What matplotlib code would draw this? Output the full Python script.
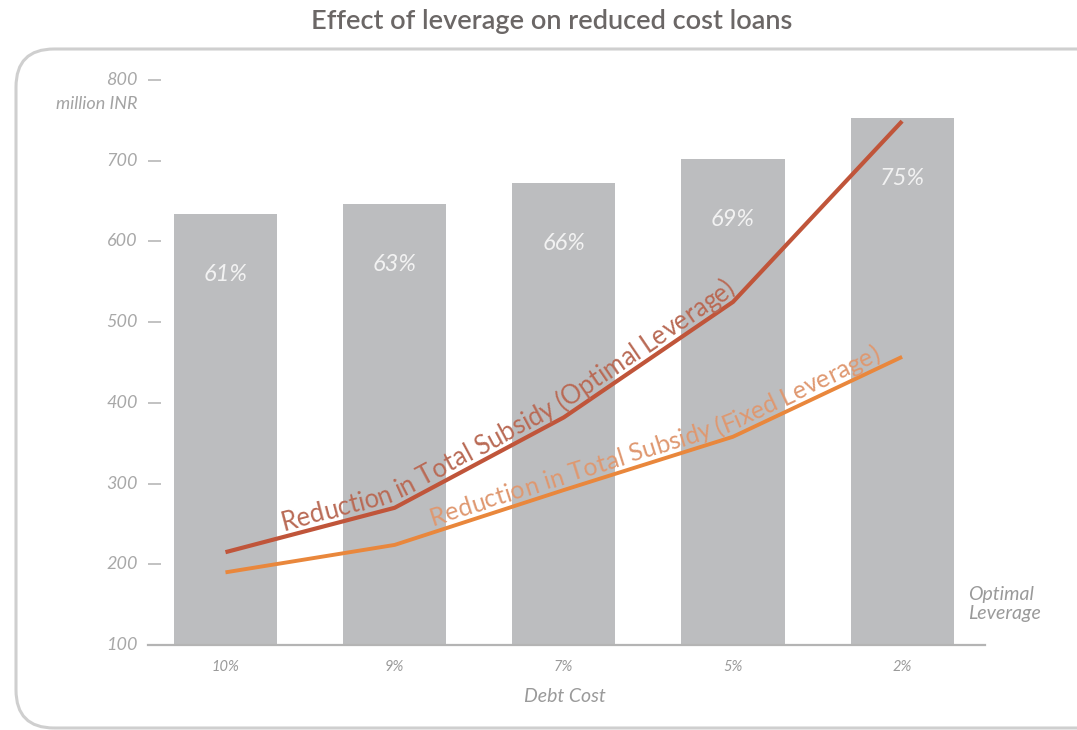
import numpy as np
import matplotlib
matplotlib.use("Agg")
import matplotlib.pyplot as plt
from matplotlib.patches import FancyBboxPatch
from matplotlib.transforms import IdentityTransform, blended_transform_factory, offset_copy
from matplotlib.font_manager import FontProperties

plt.rcParams['font.family'] = ['Lato', 'DejaVu Sans']

# ---------------- data ----------------
categories = ["10%", "9%", "7%", "5%", "2%"]
bar_values = [634, 646, 672, 702, 753]
bar_labels = ["61%", "63%", "66%", "69%", "75%"]
optimal_values = [215, 270, 382, 525, 749]
fixed_values = [190, 224, 292, 358, 457]
y_ticks = [100, 200, 300, 400, 500, 600, 700, 800]

W, H = 1077, 730
fig = plt.figure(figsize=(W / 100, H / 100), dpi=100)
fig.patch.set_facecolor("white")

# rounded frame
frame = FancyBboxPatch((16, 2), 1100, 679, boxstyle="round,pad=0,rounding_size=38",
                       transform=IdentityTransform(), facecolor="none",
                       edgecolor="#cfcfcf", linewidth=2.2, zorder=0)
fig.patches.append(frame)

fig.text(552 / W, 1 - 21 / H, "Effect of leverage on reduced cost loans",
         ha="center", va="center", fontsize=19.5, fontweight="semibold",
         color="#6b6766")

ax = fig.add_axes([148 / W, 85 / H, 837 / W, 565 / H])
ax.set_xlim(-0.458, 4.49)
ax.set_ylim(100, 800)
x = np.arange(len(categories))

ax.bar(x, [v - 100 for v in bar_values], bottom=100, width=0.61,
       color="#bcbdbf", zorder=1)
for xi, v, lab in zip(x, bar_values, bar_labels):
    ax.text(xi, v - 75, lab, ha="center", va="center", fontsize=17,
            style="italic", color="#f2f2f2", zorder=2)

ax.plot(x, optimal_values, color="#c0553a", lw=3.0, zorder=4,
        solid_capstyle="butt")
ax.plot(x, fixed_values, color="#e9873c", lw=2.8, zorder=3,
        solid_capstyle="butt")

for s in ["top", "right", "left"]:
    ax.spines[s].set_visible(False)
ax.spines["bottom"].set_color("#b4b4b4")
ax.spines["bottom"].set_linewidth(1.6)

# y ticks: marks via axis, labels drawn as italic text
ax.set_yticks(y_ticks)
ax.tick_params(axis="y", direction="in", length=9, width=1.2, color="#b8b8b8",
               labelleft=False)
ylab_tr = offset_copy(blended_transform_factory(ax.transAxes, ax.transData),
                      fig=fig, x=-10, y=0, units="dots")
for t in y_ticks:
    ax.text(0, t, str(t), transform=ylab_tr, ha="right", va="center",
            fontsize=13, style="italic", color="#a8a8a8", clip_on=False)

ax.set_xticks(x)
ax.set_xticklabels(categories)
for t in ax.get_xticklabels():
    t.set_fontstyle("italic")
    t.set_fontsize(10.5)
    t.set_color("#9a9a9a")
ax.tick_params(axis="x", length=0, pad=11)
ax.set_facecolor("none")

fig.text(138 / W, 1 - 104 / H, "million INR", ha="right", va="center",
         fontsize=13, style="italic", color="#a3a3a3")
fig.text(565 / W, 1 - 697 / H, "Debt Cost", ha="center", va="center",
         fontsize=14, style="italic", color="#9a9a9a")
fig.text(968 / W, 1 - 604 / H, "Optimal\nLeverage", ha="left", va="center",
         fontsize=14, style="italic", color="#9a9a9a", linespacing=1.1)

# ---------------- text along the lines ----------------
fig.canvas.draw()
renderer = fig.canvas.get_renderer()


def text_on_line(values, text, x_start_px, length_px, offset, color):
    pts = ax.transData.transform(np.column_stack([x, values]))
    seg = np.diff(pts, axis=0)
    seglen = np.hypot(seg[:, 0], seg[:, 1])
    cum = np.concatenate([[0], np.cumsum(seglen)])

    def point(s):
        s = np.clip(s, 0, cum[-1])
        i = min(np.searchsorted(cum, s, side="right") - 1, len(seg) - 1)
        t = (s - cum[i]) / seglen[i]
        return pts[i] + t * seg[i]

    ss = np.linspace(0, cum[-1], 4000)
    xs = np.array([point(s)[0] for s in ss])
    s0 = ss[np.argmin(np.abs(xs - x_start_px))]

    prop1 = FontProperties(family=["Lato", "DejaVu Sans"], size=10)
    widths = [renderer.get_text_width_height_descent(c, prop1, ismath=False)[0]
              for c in text]
    fs = 10 * length_px / sum(widths)
    widths = [w * fs / 10 for w in widths]

    s = s0
    for ch, w in zip(text, widths):
        sc = s + w / 2
        p = point(sc)
        a = point(sc - 25)
        b = point(sc + 25)
        ang = np.degrees(np.arctan2(b[1] - a[1], b[0] - a[0]))
        nrm = np.array([-np.sin(np.radians(ang)), np.cos(np.radians(ang))])
        q = p + nrm * offset
        fig.text(q[0], q[1], ch, transform=IdentityTransform(),
                 ha="center", va="baseline", rotation=ang,
                 rotation_mode="anchor", fontsize=fs, color=color, zorder=5)
        s += w


text_on_line(optimal_values, "Reduction in Total Subsidy (Optimal Leverage)",
             285, 520, 6, "#b96a55")
text_on_line(fixed_values, "Reduction in Total Subsidy (Fixed Leverage)",
             435, 480, 6, "#df9870")

fig.savefig("out.png", dpi=100, facecolor="white")
